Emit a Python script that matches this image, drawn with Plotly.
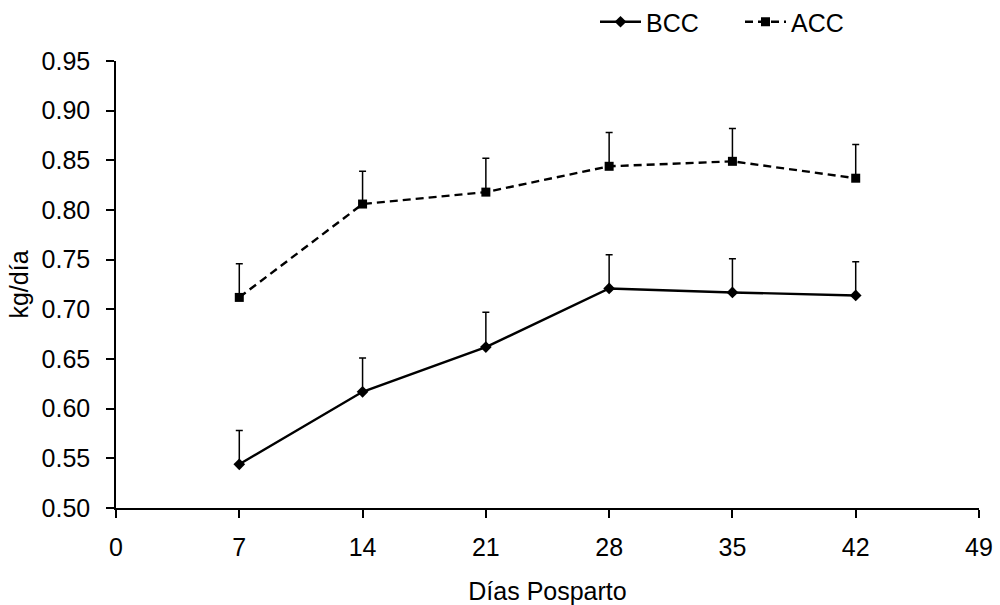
import plotly.graph_objects as go

days = [7, 14, 21, 28, 35, 42]
bcc = [0.544, 0.617, 0.662, 0.721, 0.717, 0.714]
bcc_err = [0.034, 0.034, 0.035, 0.034, 0.034, 0.034]
acc = [0.712, 0.806, 0.818, 0.844, 0.849, 0.832]
acc_err = [0.034, 0.033, 0.034, 0.034, 0.033, 0.034]
x_ticks = [0, 7, 14, 21, 28, 35, 42, 49]
y_ticks = [0.50, 0.55, 0.60, 0.65, 0.70, 0.75, 0.80, 0.85, 0.90, 0.95]

font = "Liberation Sans, Arial, sans-serif"
FS = 25

fig = go.Figure()
fig.add_trace(go.Scatter(
    x=days, y=bcc, name="BCC", mode="lines+markers",
    line=dict(color="black", width=2.4, dash="solid"),
    marker=dict(symbol="diamond", size=9, color="black"),
    error_y=dict(type="data", array=bcc_err, arrayminus=[0]*len(bcc_err),
                 symmetric=False, color="black", thickness=1.5, width=3.5),
))
fig.add_trace(go.Scatter(
    x=days, y=acc, name="ACC", mode="lines+markers",
    line=dict(color="black", width=2.4, dash="8px,5px"),
    marker=dict(symbol="square", size=9, color="black"),
    error_y=dict(type="data", array=acc_err, arrayminus=[0]*len(acc_err),
                 symmetric=False, color="black", thickness=1.5, width=3.5),
))

fig.update_layout(
    width=1000, height=605,
    margin=dict(l=116, r=21, t=61, b=97, autoexpand=False),
    paper_bgcolor="white", plot_bgcolor="white",
    font=dict(family=font, size=FS, color="black"),
    showlegend=True,
    legend=dict(orientation="h", xref="container", yref="container",
                x=0.595, y=1 - 22/605, xanchor="left", yanchor="middle",
                font=dict(family=font, size=FS, color="black"),
                bgcolor="rgba(0,0,0,0)", itemwidth=41, entrywidth=89),
    xaxis=dict(range=[0, 49], tickvals=x_ticks, ticktext=[str(v) for v in x_ticks],
               showline=True, linecolor="black", linewidth=1.5,
               ticks="outside", ticklen=8, tickwidth=1.5, tickcolor="black",
               ticklabelstandoff=8, automargin=False,
               showgrid=False, zeroline=False,
               title=dict(text="Días Posparto", standoff=24, font=dict(size=FS))),
    yaxis=dict(range=[0.50, 0.95], tickvals=y_ticks,
               ticktext=[f"{v:.2f}" for v in y_ticks],
               showline=True, linecolor="black", linewidth=1.5,
               ticks="outside", ticklen=8, tickwidth=1.5, tickcolor="black",
               ticklabelstandoff=11, automargin=False,
               showgrid=False, zeroline=False,
               title=dict(text="kg/día", standoff=6, font=dict(size=FS))),
)

fig.write_html("out.html")
